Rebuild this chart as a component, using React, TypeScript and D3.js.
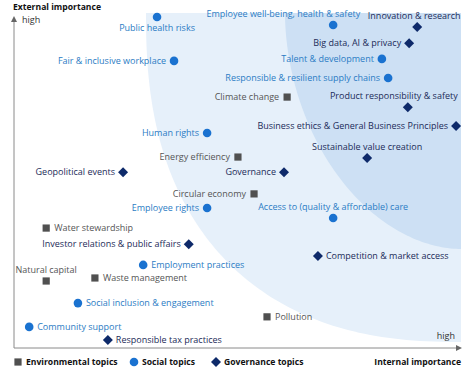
import React from "react";
import * as d3 from "d3";

// ---- data (importance scores on a 0–10 scale) ----
const socialTopics = [
  "Public health risks",
  "Employee well-being, health & safety",
  "Fair & inclusive workplace",
  "Talent & development",
  "Responsible & resilient supply chains",
  "Human rights",
  "Employee rights",
  "Access to (quality & affordable) care",
  "Employment practices",
  "Social inclusion & engagement",
  "Community support",
];
const socialInternal = [3.2, 7.14, 3.58, 8.23, 8.37, 4.32, 4.32, 7.14, 2.89, 1.43, 0.34];
const socialExternal = [9.88, 9.64, 8.57, 8.63, 8.06, 6.42, 4.18, 3.88, 2.48, 1.34, 0.63];

const envTopics = [
  "Climate change",
  "Energy efficiency",
  "Circular economy",
  "Water stewardship",
  "Natural capital",
  "Waste management",
  "Pollution",
];
const envInternal = [6.11, 5.01, 5.37, 0.72, 0.72, 1.81, 5.66];
const envExternal = [7.49, 5.7, 4.6, 3.58, 2.0, 2.09, 0.93];

const govTopics = [
  "Innovation & research",
  "Big data, AI & privacy",
  "Product responsibility & safety",
  "Business ethics & General Business Principles",
  "Sustainable value creation",
  "Governance",
  "Geopolitical events",
  "Investor relations & public affairs",
  "Competition & market access",
  "Responsible tax practices",
];
const govInternal = [9.02, 8.84, 8.81, 9.89, 7.9, 6.04, 2.44, 3.91, 6.8, 2.1];
const govExternal = [9.58, 9.1, 7.19, 6.63, 5.67, 5.25, 5.25, 3.1, 2.75, 0.24];

const legendLabels = ["Environmental topics", "Social topics", "Governance topics"];

// ---- label placement (layout only) ----
// L = left of marker, R = right, T = above, B = below; optional dx
type Place = [string, number?];
const socialPlace: Place[] = [["B"], ["T", 27], ["L"], ["L"], ["L"], ["L"], ["L"], ["T"], ["R"], ["R"], ["R"]];
const envPlace: Place[] = [["L"], ["L"], ["L"], ["R"], ["T"], ["R"], ["R"]];
const govPlace: Place[] = [["T", -3], ["L"], ["T", -14], ["L"], ["T"], ["L"], ["L"], ["L"], ["R"], ["R"]];

const W = 474;
const H = 374;
const FONT = "'Open Sans', 'Noto Sans', sans-serif";
const FS = 9;
const FSB = 8.6;

const x = d3.scaleLinear().domain([0, 10]).range([14, 461]);
const y = d3.scaleLinear().domain([0, 10]).range([348, 13]);

const COL = {
  socialMark: "#1a72d0",
  socialText: "#2b7cc4",
  envMark: "#505050",
  envText: "#555555",
  govMark: "#0e2a6a",
  govText: "#1c2b58",
  light: "#e6f0fa",
  dark: "#cde0f4",
  axis: "#8a8a8a",
};

function superEllipse(cx: number, cy: number, rx: number, ry: number, n: number) {
  const pts: [number, number][] = [];
  const N = 90;
  for (let i = 0; i <= N; i++) {
    const t = (i / N) * (Math.PI / 2);
    const c = Math.pow(Math.cos(t), 2 / n);
    const s = Math.pow(Math.sin(t), 2 / n);
    pts.push([cx - rx * c, cy + ry * s]);
  }
  pts.push([cx, cy]);
  return d3.line()(pts) + "Z";
}

function labelProps(place: Place, px: number, py: number) {
  const [p, dx = 0] = place;
  const g = 8;
  if (p === "L") return { x: px - g, y: py + 3.2, anchor: "end" };
  if (p === "R") return { x: px + g, y: py + 3.2, anchor: "start" };
  if (p === "T") return { x: px + dx, y: py - 8, anchor: dx > 10 ? "end" : "middle" };
  return { x: px + dx, y: py + 13.5, anchor: "middle" };
}

function Marker({ kind, cx, cy }: { kind: string; cx: number; cy: number }) {
  if (kind === "s") return <circle cx={cx} cy={cy} r={4.3} fill={COL.socialMark} />;
  if (kind === "e") return <rect x={cx - 3.6} y={cy - 3.6} width={7.2} height={7.2} fill={COL.envMark} />;
  const r = 5;
  return (
    <path
      d={`M${cx},${cy - r}L${cx + r},${cy}L${cx},${cy + r}L${cx - r},${cy}Z`}
      fill={COL.govMark}
    />
  );
}

function Group({
  kind,
  topics,
  xs,
  ys,
  places,
  color,
}: {
  kind: string;
  topics: string[];
  xs: number[];
  ys: number[];
  places: Place[];
  color: string;
}) {
  return (
    <g>
      {topics.map((t, i) => {
        const px = x(xs[i]);
        const py = y(ys[i]);
        const lp = labelProps(places[i], px, py);
        return (
          <g key={t}>
            <Marker kind={kind} cx={px} cy={py} />
            <text x={lp.x} y={lp.y} textAnchor={lp.anchor as any} fill={color} fontSize={FS}>
              {t}
            </text>
          </g>
        );
      })}
    </g>
  );
}

export default function App() {
  const x0 = x(0);
  const x1 = x(10);
  const y0 = y(0);
  const y1 = y(10);
  return (
    <svg
      width={W}
      height={H}
      style={{ position: "absolute", left: 0, top: 0, background: "#fff" }}
      fontFamily={FONT}
    >
      <path d={superEllipse(x1, y1, x1 - 146, 342 - y1, 2.4)} fill={COL.light} />
      <path d={superEllipse(x1, y1, x1 - 285, 249 - y1, 1.9)} fill={COL.dark} />

      {/* axes */}
      <line x1={x0} y1={y0} x2={x0} y2={22} stroke={COL.axis} strokeWidth={1} />
      <path d={`M${x0},16L${x0 + 3},22L${x0 - 3},22Z`} fill="#666" />
      <line x1={x0} y1={y0} x2={x1 - 5} y2={y0} stroke={COL.axis} strokeWidth={1} />
      <path d={`M${x1 + 1},${y0}L${x1 - 5},${y0 - 3}L${x1 - 5},${y0 + 3}Z`} fill="#666" />

      <text x={13} y={10} fontSize={FSB} fontWeight="bold" fill="#111">External importance</text>
      <text x={22} y={23} fontSize={FS} fill="#333">high</text>
      <text x={455} y={339} fontSize={FS} fill="#333" textAnchor="end">high</text>
      <text x={461} y={365} fontSize={FSB} fontWeight="bold" fill="#111" textAnchor="end">Internal importance</text>

      <Group kind="e" topics={envTopics} xs={envInternal} ys={envExternal} places={envPlace} color={COL.envText} />
      <Group kind="s" topics={socialTopics} xs={socialInternal} ys={socialExternal} places={socialPlace} color={COL.socialText} />
      <Group kind="g" topics={govTopics} xs={govInternal} ys={govExternal} places={govPlace} color={COL.govText} />

      {/* legend */}
      <g>
        <Marker kind="e" cx={18} cy={362} />
        <text x={26} y={365} fontSize={FSB} fontWeight="bold" fill="#111">{legendLabels[0]}</text>
        <Marker kind="s" cx={134} cy={362} />
        <text x={142} y={365} fontSize={FSB} fontWeight="bold" fill="#111">{legendLabels[1]}</text>
        <Marker kind="g" cx={216} cy={362} />
        <text x={224} y={365} fontSize={FSB} fontWeight="bold" fill="#111">{legendLabels[2]}</text>
      </g>
    </svg>
  );
}
